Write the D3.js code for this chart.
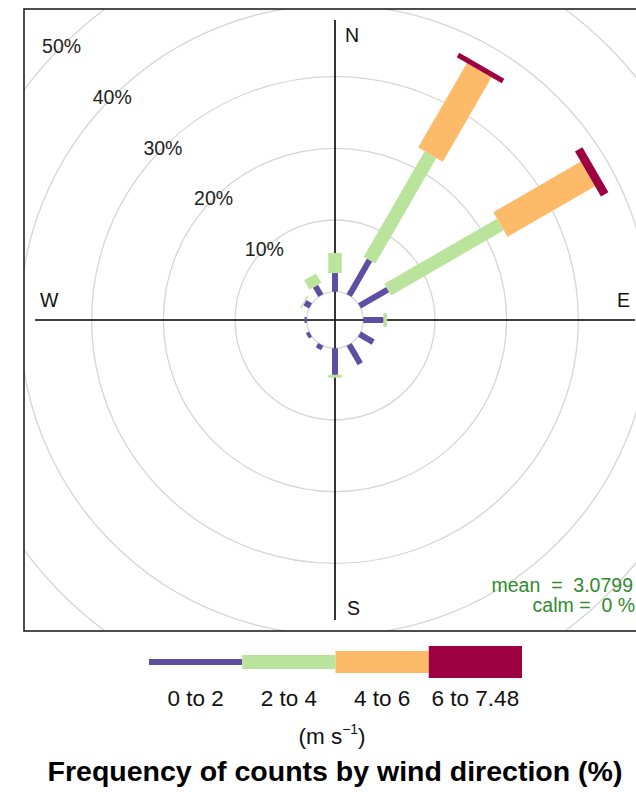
<!DOCTYPE html>
<html>
<head>
<meta charset="utf-8">
<script src="https://cdn.jsdelivr.net/npm/d3@7"></script>
<style>
  html, body { margin: 0; padding: 0; background: #fff; }
  svg { display: block; font-family: "Liberation Sans", Arial, Helvetica, sans-serif; }
</style>
</head>
<body>
<svg id="chart" width="636" height="792"></svg>
<script>
// Wind directions (degrees, clockwise from north), 30° sectors
const directions = [0, 30, 60, 90, 120, 150, 180, 210, 240, 270, 300, 330];

// Frequency (%) of each wind-speed interval per direction
const ws0to2   = [2.6, 5.7, 4.55, 2.8, 2.2, 3.1, 3.7, 0.7, 0.5, 0.3, 0.9, 1.5];
const ws2to4   = [2.8, 17.0, 18.15, 0.5, 0, 0, 0.4, 0, 0, 0, 0.2, 1.5];
const ws4to6   = [0, 13.6, 14.1, 0, 0, 0, 0, 0, 0, 0, 0, 0];
const ws6to748 = [0, 0.7, 1.2, 0, 0, 0, 0, 0, 0, 0, 0, 0];

const speedLabels = ["0 to 2", "2 to 4", "4 to 6", "6 to 7.48"];
const speedColors = ["#5E4FA2", "#BAE39C", "#FDBB6A", "#9E0142"];
const ringTicks = [10, 20, 30, 40, 50];
const compassLabels = ["N", "E", "S", "W"];
const meanSpeed = "3.0799";
const calmPct = "0";

const svg = d3.select("#chart");
const cx = 335, cy = 320, half = 311;

// radial scale: 0 % sits on the inner offset circle
const r = d3.scaleLinear().domain([0, 50]).range([28.3, 386.7]);
// paddle widths grow with each speed interval
const paddleWidth = [6, 13.5, 28.5, 52];

const keys = ["b0", "b1", "b2", "b3"];
const rows = directions.map((d, i) => ({
  dir: d, b0: ws0to2[i], b1: ws2to4[i], b2: ws4to6[i], b3: ws6to748[i]
}));
const stacked = d3.stack().keys(keys)(rows);

// panel
const defs = svg.append("defs");
defs.append("clipPath").attr("id", "panel-clip")
  .append("rect").attr("x", cx - half).attr("y", cy - half)
  .attr("width", 2 * half).attr("height", 2 * half);

const panel = svg.append("g").attr("clip-path", "url(#panel-clip)");

// grid rings (0 % to 50 %)
panel.selectAll("circle.ring")
  .data([0].concat(ringTicks))
  .join("circle")
  .attr("class", "ring")
  .attr("cx", cx).attr("cy", cy)
  .attr("r", d => r(d))
  .attr("fill", "none")
  .attr("stroke", "#d6d6d6")
  .attr("stroke-width", 1.3);

// compass axes
const axLen = 300;
panel.append("line").attr("x1", cx).attr("x2", cx)
  .attr("y1", cy - axLen).attr("y2", cy + axLen)
  .attr("stroke", "#000").attr("stroke-width", 1.6);
panel.append("line").attr("y1", cy).attr("y2", cy)
  .attr("x1", cx - axLen).attr("x2", cx + axLen)
  .attr("stroke", "#000").attr("stroke-width", 1.6);

// paddles
stacked.forEach((layer, k) => {
  panel.append("g")
    .selectAll("rect")
    .data(layer.filter(d => d[1] - d[0] > 0))
    .join("rect")
    .attr("transform", d => `translate(${cx},${cy}) rotate(${d.data.dir})`)
    .attr("x", -paddleWidth[k] / 2)
    .attr("y", d => -r(d[1]))
    .attr("width", paddleWidth[k])
    .attr("height", d => r(d[1]) - r(d[0]))
    .attr("fill", speedColors[k]);
});

// ring labels along the north-west diagonal
const a = 315 * Math.PI / 180;
panel.selectAll("text.ringlab")
  .data(ringTicks)
  .join("text")
  .attr("class", "ringlab")
  .attr("x", d => cx + r(d) * Math.sin(a))
  .attr("y", d => cy - r(d) * Math.cos(a))
  .attr("dy", "0.35em")
  .attr("text-anchor", "middle")
  .attr("font-size", 19.5)
  .attr("fill", "#222")
  .text(d => d + "%");

// compass letters
const compassPos = {
  N: [cx + 10, 42, "start"],
  E: [630, cy - 13, "end"],
  S: [cx + 12, 615, "start"],
  W: [40, cy - 13, "start"]
};
compassLabels.forEach(c => {
  panel.append("text")
    .attr("x", compassPos[c][0]).attr("y", compassPos[c][1])
    .attr("text-anchor", compassPos[c][2])
    .attr("font-size", 19.5).attr("fill", "#111")
    .text(c);
});

// summary statistics
svg.append("text").attr("x", 633).attr("y", 592)
  .attr("text-anchor", "end").attr("font-size", 19.5).attr("fill", "#2E8B2E")
  .attr("xml:space", "preserve")
  .text("mean  =  " + meanSpeed);
svg.append("text").attr("x", 635).attr("y", 612)
  .attr("text-anchor", "end").attr("font-size", 19.5).attr("fill", "#2E8B2E")
  .attr("xml:space", "preserve")
  .text("calm =  " + calmPct + " %");

// panel border
svg.append("rect")
  .attr("x", cx - half).attr("y", cy - half)
  .attr("width", 2 * half).attr("height", 2 * half)
  .attr("fill", "none").attr("stroke", "#222").attr("stroke-width", 1.6);

// legend
const legX = d3.scaleBand().domain(speedLabels).range([149, 522]);
const legH = [6, 14, 22, 32];
const legY = 662;
const leg = svg.append("g");
leg.selectAll("rect")
  .data(speedLabels)
  .join("rect")
  .attr("x", d => legX(d))
  .attr("width", legX.bandwidth())
  .attr("y", (d, i) => legY - legH[i] / 2)
  .attr("height", (d, i) => legH[i])
  .attr("fill", (d, i) => speedColors[i]);
leg.selectAll("text")
  .data(speedLabels)
  .join("text")
  .attr("x", d => legX(d) + legX.bandwidth() / 2)
  .attr("y", 706)
  .attr("text-anchor", "middle")
  .attr("font-size", 22.5)
  .attr("fill", "#111")
  .text(d => d);

const unit = svg.append("text")
  .attr("x", 332).attr("y", 744)
  .attr("text-anchor", "middle")
  .attr("font-size", 22.5).attr("fill", "#111");
unit.append("tspan").text("(m s");
unit.append("tspan").attr("font-size", 14).attr("dy", -10).text("\u22121");
unit.append("tspan").attr("dy", 10).text(")");

// title
svg.append("text")
  .attr("x", 335).attr("y", 781)
  .attr("text-anchor", "middle")
  .attr("font-size", 28.5).attr("font-weight", "bold").attr("fill", "#000")
  .text("Frequency of counts by wind direction (%)");
</script>
</body>
</html>
